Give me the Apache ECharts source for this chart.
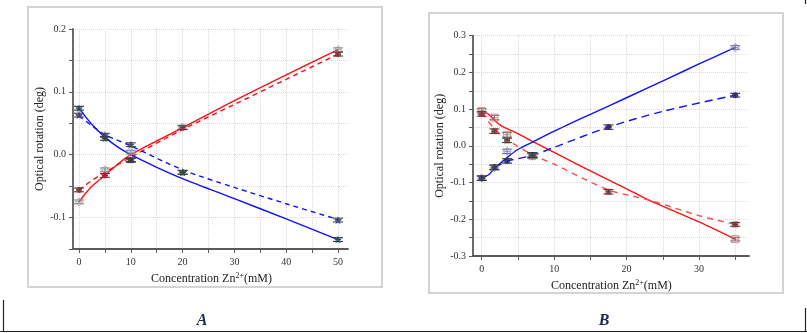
<!DOCTYPE html>
<html><head><meta charset="utf-8">
<script src="https://cdn.jsdelivr.net/npm/echarts@6/dist/echarts.min.js"></script>
<style>html,body{margin:0;padding:0;background:#fff}#c{width:807px;height:333px}</style>
</head><body><div id="c"></div>
<script>
// ---------- Panel A data ----------
const A_x = [0, 5, 10, 20, 50];
const A_redSolidPts = [-0.075, -0.024, 0.004, 0.044, 0.167];
const A_redDashPts = [-0.056, -0.033, -0.009, 0.043, 0.160];
const A_blueSolidPts = [0.074, 0.026, -0.008, -0.028, -0.135];
const A_blueDashPts = [0.063, 0.031, 0.016, -0.028, -0.104];
const A_err = [0.003, 0.003, 0.003, 0.003, 0.003];
// fitted curves
const A_redSolidFitX = [0, 1, 2.5, 5, 7.5, 10, 15, 20, 30, 40, 50];
const A_redSolidFitY = [-0.075, -0.064, -0.050, -0.033, -0.015, 0.0, 0.022, 0.043, 0.086, 0.127, 0.167];
const A_redDashFitX = [0, 2.5, 5, 10, 20, 30, 40, 50];
const A_redDashFitY = [-0.056, -0.041, -0.028, -0.004, 0.040, 0.080, 0.120, 0.160];
const A_blueSolidFitX = [0, 2.5, 5, 7.5, 10, 15, 20, 30, 40, 50];
const A_blueSolidFitY = [0.074, 0.048, 0.028, 0.012, 0.0, -0.020, -0.038, -0.070, -0.102, -0.135];
const A_blueDashFitX = [0, 2.5, 5, 10, 20, 30, 40, 50];
const A_blueDashFitY = [0.062, 0.046, 0.032, 0.014, -0.024, -0.052, -0.078, -0.103];

// ---------- Panel B data ----------
const B_x = [0, 1.75, 3.5, 7, 17.5, 35];
const B_redSolidPts = [0.095, 0.077, 0.030, -0.028, null, -0.254];
const B_redDashPts = [0.087, 0.040, 0.015, -0.025, -0.125, -0.214];
const B_blueSolidPts = [-0.088, -0.060, -0.015, -0.028, null, 0.268];
const B_blueDashPts = [-0.088, -0.058, -0.041, -0.025, 0.051, 0.138];
const B_err = [0.006, 0.006, 0.006, 0.006, 0.006, 0.005];
const B_redSolidFitX = [0, 1, 2.5, 5, 7, 10, 17.5, 20, 23, 30, 35];
const B_redSolidFitY = [0.095, 0.085, 0.057, 0.033, 0.012, -0.018, -0.093, -0.117, -0.147, -0.207, -0.254];
const B_redDashFitX = [0, 1.75, 3.5, 7, 10, 17.5, 23, 30, 35];
const B_redDashFitY = [0.090, 0.047, 0.017, -0.024, -0.050, -0.120, -0.147, -0.190, -0.214];
const B_blueSolidFitX = [0, 1, 1.75, 3.5, 5, 7, 10, 12.5, 15, 20, 26, 30, 35];
const B_blueSolidFitY = [-0.088, -0.078, -0.062, -0.032, -0.010, 0.010, 0.040, 0.063, 0.086, 0.131, 0.186, 0.223, 0.268];
const B_blueDashFitX = [1.75, 3.5, 7, 10, 17.5, 25, 35];
const B_blueDashFitY = [-0.060, -0.042, -0.026, -0.004, 0.051, 0.094, 0.138];

// tick label sets
const A_xLabels = [0, 10, 20, 30, 40, 50];
const B_xLabels = [0, 10, 20, 30];

const RED = '#ff1010', BLUE = '#1010ff';
const SERIF = '"Liberation Serif", "DejaVu Serif", serif';
const star = 'path://M0,-10L2.9,-4L9.5,-3.1L4.8,1.5L5.9,8.1L0,5L-5.9,8.1L-4.8,1.5L-9.5,-3.1L-2.9,-4Z';

function pairs(xs, ys) { return xs.map((x, i) => [x, ys[i]]).filter(p => p[1] != null); }
function errData(xs, ys, es) { return xs.map((x, i) => [x, ys[i], es[i]]).filter(p => p[1] != null); }

function fitLine(name, xs, ys, color, dash, axisIdx) {
  return { type: 'line', name, xAxisIndex: axisIdx, yAxisIndex: axisIdx, data: pairs(xs, ys),
    smooth: 0.3, symbol: 'none', clip: false, z: 2,
    lineStyle: { color, width: 1.4, type: dash || 'solid' } };
}
function pts(xs, ys, symbol, size, itemStyle, axisIdx) {
  return { type: 'scatter', xAxisIndex: axisIdx, yAxisIndex: axisIdx, data: pairs(xs, ys),
    symbol, symbolSize: size, itemStyle, clip: false, z: 3 };
}
function errBars(xs, ys, es, axisIdx, color) {
  return { type: 'custom', xAxisIndex: axisIdx, yAxisIndex: axisIdx, data: errData(xs, ys, es), clip: false, z: 4,
    renderItem: function (params, api) {
      const x = api.value(0), y = api.value(1), e = api.value(2);
      const top = api.coord([x, y + e]), bot = api.coord([x, y - e]), mid = api.coord([x, y]);
      const w = 5;
      const st = { stroke: color, lineWidth: 1.1 };
      return { type: 'group', children: [
        { type: 'line', shape: { x1: top[0], y1: top[1], x2: bot[0], y2: bot[1] }, style: st },
        { type: 'line', shape: { x1: top[0] - w, y1: top[1], x2: top[0] + w, y2: top[1] }, style: st },
        { type: 'line', shape: { x1: bot[0] - w, y1: bot[1], x2: bot[0] + w, y2: bot[1] }, style: st },
        { type: 'line', shape: { x1: mid[0] - 3, y1: mid[1], x2: mid[0] + 3, y2: mid[1] }, style: { stroke: color, lineWidth: 0.8 } }
      ] };
    } };
}

const yFmt = v => {
  const t = v * 10;
  if (Math.abs(t - Math.round(t)) < 1e-6) return (Math.round(t) / 10).toFixed(1);
  return '';
};
const axisCol = '#5a5a5a';
const gridLine = { show: true, lineStyle: { color: '#d9d9d9', type: 'dotted', width: 1 } };
const labelStyle = { fontFamily: SERIF, fontSize: 10, color: '#333' };

function frameX(idx, min, max) {
  return { type: 'value', gridIndex: idx, min, max, position: 'bottom',
    axisLine: { show: true, onZero: false, lineStyle: { color: axisCol, width: 1.8 } },
    axisTick: { show: false }, axisLabel: { show: false }, splitLine: { show: false } };
}
function frameY(idx, min, max) {
  return { type: 'value', gridIndex: idx, min, max, interval: 0.05, position: 'left',
    name: 'Optical rotation (deg)', nameLocation: 'middle', nameGap: 23, nameRotate: 90,
    nameTextStyle: { fontFamily: SERIF, fontSize: 12, color: '#222' },
    axisLine: { show: true, onZero: false, lineStyle: { color: axisCol, width: 1.8 } },
    axisTick: { show: true, inside: false, length: 4, lineStyle: { color: axisCol } },
    axisLabel: Object.assign({ formatter: yFmt, margin: 7 }, labelStyle),
    splitLine: gridLine };
}
function dataX(idx, max, labels, gap) {
  return { type: 'value', gridIndex: idx, min: 0, max, interval: 5, position: 'bottom',
    name: 'Concentration Zn{sup|2+}(mM)', nameLocation: 'middle', nameGap: gap,
    nameTextStyle: { fontFamily: SERIF, fontSize: 12, color: '#222', padding: [0, 0, 0, 6],
      rich: { sup: { fontFamily: SERIF, fontSize: 8, color: '#222', verticalAlign: 'top', padding: [0, 0, 6, 0] } } },
    axisLine: { show: false, onZero: false },
    axisTick: { show: true, inside: false, length: 4, lineStyle: { color: axisCol } },
    axisLabel: Object.assign({ margin: 8, formatter: v => (labels.indexOf(Math.round(v * 1000) / 1000) >= 0 ? String(v) : '') }, labelStyle),
    splitLine: gridLine };
}
function dataY(idx, min, max) {
  return { type: 'value', gridIndex: idx, min, max, show: false,
    axisLine: { show: false, onZero: false }, axisTick: { show: false }, axisLabel: { show: false },
    splitLine: { show: false } };
}

const option = {
  animation: false,
  backgroundColor: '#fff',
  grid: [
    { left: 73, top: 29, width: 275, height: 220 },
    { left: 79, top: 29, width: 259, height: 220 },
    { left: 473, top: 35.7, width: 276, height: 220.3 },
    { left: 481.7, top: 35.7, width: 253.5, height: 220.3 }
  ],
  xAxis: [ frameX(0, -1.16, 51.9), dataX(1, 50, A_xLabels, 20), frameX(2, -1.2, 37), dataX(3, 35, B_xLabels, 18) ],
  yAxis: [ frameY(0, -0.15, 0.2), dataY(1, -0.15, 0.2), frameY(2, -0.3, 0.3), dataY(3, -0.3, 0.3) ],
  series: [
    // Panel A
    fitLine('A red solid', A_redSolidFitX, A_redSolidFitY, RED, 'solid', 1),
    fitLine('A red dash', A_redDashFitX, A_redDashFitY, RED, [5, 4], 1),
    fitLine('A blue solid', A_blueSolidFitX, A_blueSolidFitY, BLUE, 'solid', 1),
    fitLine('A blue dash', A_blueDashFitX, A_blueDashFitY, BLUE, [5, 4], 1),
    pts(A_x, A_redSolidPts, 'diamond', 8, { color: 'rgba(255,255,255,0)', borderColor: '#999', borderWidth: 1 }, 1),
    pts(A_x, A_redDashPts, 'circle', 6, { color: RED }, 1),
    pts(A_x, A_blueSolidPts, star, 8, { color: '#2a8aa8' }, 1),
    pts(A_x, A_blueDashPts, star, 8, { color: '#3a3ae0' }, 1),
    errBars(A_x, A_redSolidPts, A_err, 1, '#888'),
    errBars(A_x, A_redDashPts, A_err, 1, '#444'),
    errBars(A_x, A_blueSolidPts, A_err, 1, '#333'),
    errBars(A_x, A_blueDashPts, A_err, 1, '#444'),
    // Panel B
    fitLine('B red solid', B_redSolidFitX, B_redSolidFitY, RED, 'solid', 3),
    fitLine('B red dash', B_redDashFitX, B_redDashFitY, '#ff4a4a', [6, 5], 3),
    fitLine('B blue solid', B_blueSolidFitX, B_blueSolidFitY, BLUE, 'solid', 3),
    fitLine('B blue dash', B_blueDashFitX, B_blueDashFitY, BLUE, [8, 5], 3),
    pts(B_x, B_redSolidPts, 'rect', 7, { color: 'rgba(255,255,255,0)', borderColor: '#f06a6a', borderWidth: 1 }, 3),
    pts(B_x, B_redDashPts, 'rect', 6, { color: '#e02020' }, 3),
    pts(B_x, B_blueSolidPts, 'diamond', 8, { color: 'rgba(255,255,255,0)', borderColor: '#6a6af0', borderWidth: 1 }, 3),
    pts(B_x, B_blueDashPts, 'circle', 6, { color: '#1a1ad0' }, 3),
    errBars(B_x, B_redSolidPts, B_err, 3, '#777'),
    errBars(B_x, B_redDashPts, B_err, 3, '#444'),
    errBars(B_x, B_blueSolidPts, B_err, 3, '#777'),
    errBars(B_x, B_blueDashPts, B_err, 3, '#333')
  ],
  graphic: [
    { type: 'rect', shape: { x: 28, y: 7, width: 354, height: 280 }, style: { fill: 'none', stroke: '#d4d4d4', lineWidth: 2 }, z: -1 },
    { type: 'rect', shape: { x: 429, y: 13, width: 354, height: 280 }, style: { fill: 'none', stroke: '#d4d4d4', lineWidth: 2 }, z: -1 },
    { type: 'line', shape: { x1: 0, y1: 331.5, x2: 807, y2: 331.5 }, style: { stroke: '#222', lineWidth: 1.2 } },
    { type: 'line', shape: { x1: 3.5, y1: 300, x2: 3.5, y2: 332 }, style: { stroke: '#222', lineWidth: 1.2 } },
    { type: 'line', shape: { x1: 805.5, y1: 308, x2: 805.5, y2: 332 }, style: { stroke: '#222', lineWidth: 1.2 } },
    { type: 'line', shape: { x1: 805.5, y1: 0, x2: 805.5, y2: 4 }, style: { stroke: '#222', lineWidth: 1.2 } },
    { type: 'text', x: 202, y: 321, style: { text: 'A', font: 'italic bold 16px "Liberation Serif"', fill: '#1c2a50', align: 'center', verticalAlign: 'middle' } },
    { type: 'text', x: 604, y: 321, style: { text: 'B', font: 'italic bold 16px "Liberation Serif"', fill: '#1c2a50', align: 'center', verticalAlign: 'middle' } }
  ]
};
const chart = echarts.init(document.getElementById('c'), null, { renderer: 'canvas' });
chart.setOption(option);
</script>
</body></html>
